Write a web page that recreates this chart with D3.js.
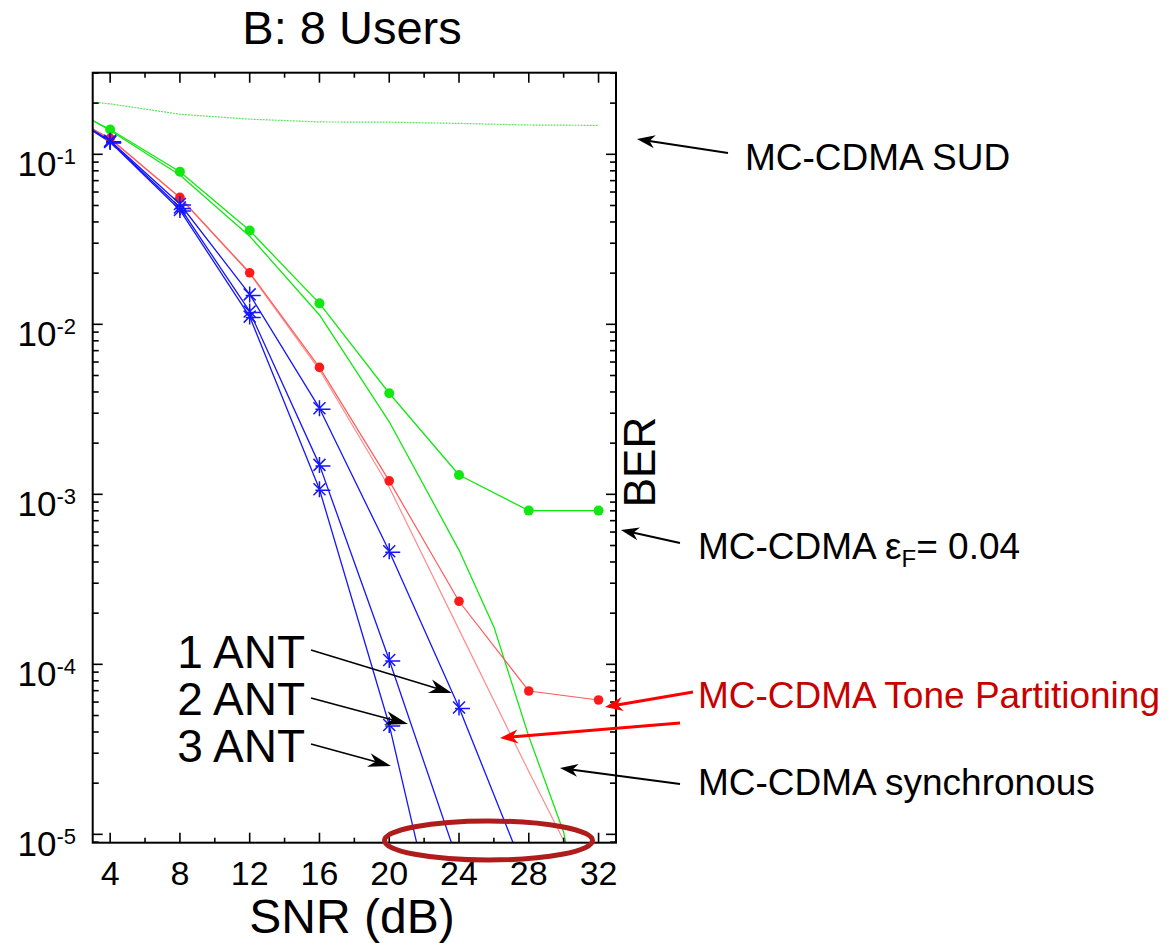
<!DOCTYPE html>
<html>
<head>
<meta charset="utf-8">
<script src="https://cdn.jsdelivr.net/npm/d3@7"></script>
<style>
  body { margin: 0; background: #fff; }
  svg { display: block; }
  text { font-family: "Liberation Sans", Arial, Helvetica, sans-serif; fill: #000; }
</style>
</head>
<body>
<svg id="chart" width="1170" height="943"></svg>
<script>
// ---- axis ticks ----
const snrTicks = [4, 8, 12, 16, 20, 24, 28, 32];
const berTicks = [1e-1, 1e-2, 1e-3, 1e-4, 1e-5];
const berTickExps = ["-1", "-2", "-3", "-4", "-5"];

// ---- BER curves (SNR in dB) ----
// single-user detection reference
const snrSud = [3, 4, 8, 12, 16, 20, 24, 28, 32];
const berSud = [0.203, 0.198, 0.172, 0.161, 0.155, 0.1545, 0.152, 0.1487, 0.148];

// frequency offset eps_F = 0.04 (marked)
const snrOffset = [3, 4, 8, 12, 16, 20, 24, 28, 32];
const berOffset = [0.158, 0.140, 0.079, 0.0356, 0.01328, 0.00393, 0.0013, 0.000802, 0.000802];

// synchronous MC-CDMA
const snrSync = [3, 4, 8, 12, 16, 20, 24, 26, 28, 30, 32];
const berSync = [0.158, 0.138, 0.0755, 0.033, 0.01135, 0.00267, 0.00047, 0.000166, 0.0000377, 0.0000103, 0.000001];

// tone partitioning (marked)
const snrTone = [3, 4, 8, 12, 16, 20, 24, 28, 32];
const berTone = [0.141, 0.124, 0.0558, 0.0201, 0.00558, 0.0012, 0.000235, 0.0000697, 0.0000617];

// tone partitioning, unmarked curve
const snrToneB = [3, 4, 8, 12, 16, 20, 24, 28, 30, 32];
const berToneB = [0.141, 0.123, 0.0555, 0.0199, 0.0054, 0.0011, 0.00016, 0.0000234, 0.0000092, 0.000003];

// receive antennas
const snrAnt = [3, 4, 8, 12, 16, 20, 24, 28];
const berAnt1 = [0.139, 0.120, 0.051, 0.0150, 0.00321, 0.000462, 0.0000558, 0.00000525];
const berAnt2 = [0.138, 0.119, 0.0487, 0.0119, 0.00149, 0.000106, 0.0000066];
const berAnt3 = [0.137, 0.118, 0.047, 0.0111, 0.00107, 0.000044, 0.00000076];

// ---- layout ----
const svg = d3.select("#chart");
const plot = { left: 92.7, right: 616, top: 72.7, bottom: 842.7 };
const x = d3.scaleLinear().domain([3, 33]).range([plot.left, plot.right]);
const y = d3.scaleLog().domain([8.93e-6, 0.302]).range([plot.bottom, plot.top]);

const GREEN = "#10e810", RED = "#ff1a1a", BLUE = "#1515ff";

svg.append("defs").append("clipPath").attr("id", "plotClip")
  .append("rect")
  .attr("x", plot.left).attr("y", plot.top)
  .attr("width", plot.right - plot.left).attr("height", plot.bottom - plot.top);

const toPts = (xs, ys) => xs.map((s, i) => ({ s, b: ys[i] })).filter(d => d.b !== undefined);
const line = d3.line().x(d => x(d.s)).y(d => y(d.b));
const inDomain = d => d.b >= y.domain()[0] && d.b <= y.domain()[1] && d.s % 4 === 0;

const curves = svg.append("g").attr("clip-path", "url(#plotClip)");

function drawLine(xs, ys, color, width, dash) {
  curves.append("path")
    .datum(toPts(xs, ys))
    .attr("d", line)
    .attr("fill", "none")
    .attr("stroke", color)
    .attr("stroke-width", width)
    .attr("stroke-dasharray", dash || null)
    .attr("stroke-linejoin", "round");
}

// lines
drawLine(snrSud, berSud, "#5fe05f", 1.2, "2,1");
drawLine(snrSync, berSync, GREEN, 1.3);
drawLine(snrOffset, berOffset, GREEN, 1.3);
drawLine(snrToneB, berToneB, "#ff8c8c", 1.2);
drawLine(snrTone, berTone, "#ff5a5a", 1.2);
drawLine(snrAnt, berAnt1, BLUE, 1.3);
drawLine(snrAnt, berAnt2, BLUE, 1.3);
drawLine(snrAnt, berAnt3, BLUE, 1.3);

// dot markers
function drawDots(xs, ys, color, r) {
  curves.append("g").selectAll("circle")
    .data(toPts(xs, ys).filter(inDomain))
    .join("circle")
    .attr("cx", d => x(d.s)).attr("cy", d => y(d.b))
    .attr("r", r).attr("fill", color);
}
drawDots(snrOffset, berOffset, GREEN, 5);
drawDots(snrTone, berTone, RED, 4.8);

// asterisk markers
const starPath = "M0,-8V8M-6,-6L6,6M-6,6L6,-6M-4,1H11";
function drawStars(xs, ys) {
  curves.append("g").selectAll("path")
    .data(toPts(xs, ys).filter(inDomain))
    .join("path")
    .attr("transform", d => `translate(${x(d.s)},${y(d.b)})`)
    .attr("d", starPath)
    .attr("fill", "none").attr("stroke", BLUE).attr("stroke-width", 1.5);
}
drawStars(snrAnt, berAnt1);
drawStars(snrAnt, berAnt2);
drawStars(snrAnt, berAnt3);

// ---- frame and ticks ----
const axes = svg.append("g").attr("stroke", "#000");
axes.append("rect")
  .attr("x", plot.left).attr("y", plot.top)
  .attr("width", plot.right - plot.left).attr("height", plot.bottom - plot.top)
  .attr("fill", "none").attr("stroke-width", 2);

const yMinor = [];
for (let k = -6; k <= 0; k++) {
  for (let m = 1; m <= 9; m++) {
    const v = m * Math.pow(10, k);
    if (v >= y.domain()[0] && v <= y.domain()[1]) yMinor.push({ v, major: m === 1 });
  }
}
yMinor.forEach(t => {
  const yy = y(t.v);
  const len = t.major ? 10 : 6;
  axes.append("line").attr("x1", plot.left).attr("x2", plot.left + len)
    .attr("y1", yy).attr("y2", yy).attr("stroke-width", 1.6);
  axes.append("line").attr("x1", plot.right).attr("x2", plot.right - len)
    .attr("y1", yy).attr("y2", yy).attr("stroke-width", 1.6);
});

const xMinor = d3.range(4, 33, 2).map(s => ({ s, major: s % 4 === 0 }));
xMinor.forEach(t => {
  const xx = x(t.s);
  const len = t.major ? 10 : 5;
  axes.append("line").attr("x1", xx).attr("x2", xx)
    .attr("y1", plot.top).attr("y2", plot.top + len).attr("stroke-width", 1.6);
  axes.append("line").attr("x1", xx).attr("x2", xx)
    .attr("y1", plot.bottom).attr("y2", plot.bottom - len).attr("stroke-width", 1.6);
});

// tick labels
berTicks.forEach((v, i) => {
  const t = svg.append("text")
    .attr("x", 76).attr("y", y(v) + 22)
    .attr("text-anchor", "end")
    .style("font-size", "35px");
  t.append("tspan").text("10");
  t.append("tspan").attr("dy", -12).style("font-size", "22px").text(berTickExps[i]);
});
snrTicks.forEach(s => {
  svg.append("text")
    .attr("x", x(s)).attr("y", 885)
    .attr("text-anchor", "middle")
    .style("font-size", "34px")
    .text(s);
});

// titles
svg.append("text").attr("x", 352).attr("y", 44).attr("text-anchor", "middle")
  .style("font-size", "47px").text("B: 8 Users");
svg.append("text").attr("x", 352).attr("y", 933).attr("text-anchor", "middle")
  .style("font-size", "48px").text("SNR (dB)");
svg.append("text").attr("transform", "translate(655,462) rotate(-90)")
  .attr("text-anchor", "middle").style("font-size", "44px").text("BER");

// ---- annotations ----
function arrow(x1, y1, x2, y2, color, width, headL, headW) {
  const dx = x2 - x1, dy = y2 - y1;
  const len = Math.hypot(dx, dy);
  const ux = dx / len, uy = dy / len;
  const px = -uy, py = ux;
  const g = svg.append("g");
  g.append("line")
    .attr("x1", x1).attr("y1", y1)
    .attr("x2", x2 - ux * headL * 0.6).attr("y2", y2 - uy * headL * 0.6)
    .attr("stroke", color).attr("stroke-width", width);
  const bx = x2 - ux * headL, by = y2 - uy * headL;
  const nx = x2 - ux * headL * 0.7, ny = y2 - uy * headL * 0.7;
  const pts = [
    [x2, y2],
    [bx + px * headW / 2, by + py * headW / 2],
    [nx, ny],
    [bx - px * headW / 2, by - py * headW / 2]
  ];
  g.append("path").attr("d", "M" + pts.map(p => p.join(",")).join("L") + "Z").attr("fill", color);
}

const annFont = "37px";

svg.append("text").attr("x", 745).attr("y", 170).style("font-size", annFont).text("MC-CDMA SUD");
arrow(728, 153, 637, 139, "#000", 2, 18, 13);

const eps = svg.append("text").attr("x", 698).attr("y", 559).style("font-size", annFont);
eps.append("tspan").text("MC-CDMA \u03b5");
eps.append("tspan").attr("dy", 8).style("font-size", "24px").text("F");
eps.append("tspan").attr("dy", -8).text("= 0.04");
arrow(680, 543, 621, 530, "#000", 2, 18, 13);

svg.append("text").attr("x", 698).attr("y", 708).style("font-size", annFont)
  .style("fill", "#c80000").text("MC-CDMA Tone Partitioning");
arrow(693, 692, 605, 707, "#ff0000", 3, 18, 14);
arrow(680, 723, 500, 738, "#ff0000", 3, 18, 14);

svg.append("text").attr("x", 698).attr("y", 795).style("font-size", annFont).text("MC-CDMA synchronous");
arrow(680, 784, 560, 768, "#000", 2, 18, 13);

// antenna labels, stacked tightly
const antFont = "46px";
[["1 ANT", 668], ["2 ANT", 715], ["3 ANT", 762]].forEach(([label, base]) => {
  svg.append("text").attr("x", 305).attr("y", base).attr("text-anchor", "end")
    .style("font-size", antFont).text(label);
});
arrow(311, 650, 452, 693, "#000", 1.6, 23, 14);
arrow(311, 698, 408, 724, "#000", 1.6, 23, 14);
arrow(311, 744, 391, 766, "#000", 1.6, 23, 14);

// highlight at the 1e-5 floor
svg.append("ellipse")
  .attr("cx", 488.5).attr("cy", 840.5).attr("rx", 104).attr("ry", 19.5)
  .attr("fill", "none").attr("stroke", "#b01c1c").attr("stroke-width", 5);
</script>
</body>
</html>
